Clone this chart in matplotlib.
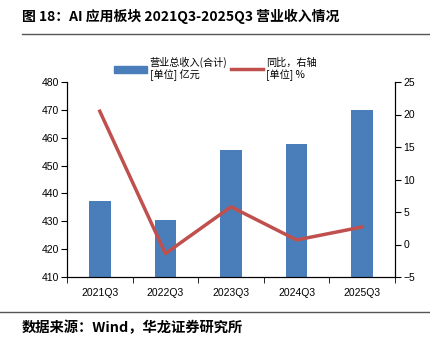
import matplotlib.pyplot as plt
from matplotlib.lines import Line2D
from matplotlib.patches import Patch

plt.rcParams['font.family'] = ['Liberation Sans', 'Noto Sans CJK SC', 'DejaVu Sans']

quarters = ['2021Q3', '2022Q3', '2023Q3', '2024Q3', '2025Q3']
revenue = [437.4, 430.5, 455.5, 457.6, 469.9]
yoy = [20.5, -1.4, 5.8, 0.7, 2.7]

cjk = ['Noto Sans CJK SC', 'DejaVu Sans']

fig = plt.figure(figsize=(4.31, 3.40), dpi=100)
ax = fig.add_axes([67 / 431, 1 - 277 / 340, 328 / 431, 195 / 340])
x = range(len(quarters))
ax.bar(x, revenue, width=0.33, color='#4a7ebb', zorder=2)
ax.set_ylim(410, 480)
ax.set_xlim(-0.5, 4.5)
ax.set_yticks(range(410, 481, 10))
ax.set_xticks(x)
ax.set_xticklabels(quarters)
ax.set_xticks([i - 0.5 for i in range(6)], minor=True)
ax.tick_params(axis='x', which='major', length=0, pad=8, labelsize=7.5)
ax.tick_params(axis='x', which='minor', length=4, direction='out')
ax.tick_params(axis='y', length=4, labelsize=7.5, pad=2)
ax.spines['top'].set_visible(False)

ax2 = ax.twinx()
ax2.plot(x, yoy, color='#c0504d', lw=2.5, zorder=3)
ax2.set_ylim(-5, 25)
ax2.set_yticks(range(-5, 26, 5))
ax2.tick_params(axis='y', length=4, labelsize=7.5, pad=2)
ax2.spines['top'].set_visible(False)

handles = [Patch(color='#4a7ebb'), Line2D([], [], color='#c0504d', lw=2.5)]
labels = ['营业总收入(合计)\n[单位] 亿元', '同比，右轴\n[单位] %']
fig.legend(handles, labels, loc='center', bbox_to_anchor=(0.5, 1 - 69 / 340),
           ncol=2, frameon=False, prop={'family': cjk, 'size': 7.3},
           handlelength=3.2, handletextpad=0.3, columnspacing=0.3)

fig.text(22 / 431, 1 - 16 / 340, '图 18：AI 应用板块 2021Q3-2025Q3 营业收入情况',
         family=cjk, fontsize=10, fontweight='bold', va='center')
fig.add_artist(Line2D([22 / 431, 1], [1 - 34 / 340] * 2, color='#555555', lw=1))
fig.add_artist(Line2D([0, 1], [1 - 312 / 340] * 2, color='#555555', lw=1))
fig.text(22 / 431, 1 - 328 / 340, '数据来源：Wind，华龙证券研究所',
         family=cjk, fontsize=10.3, fontweight='bold', va='center')

fig.savefig('out.png', dpi=100)
